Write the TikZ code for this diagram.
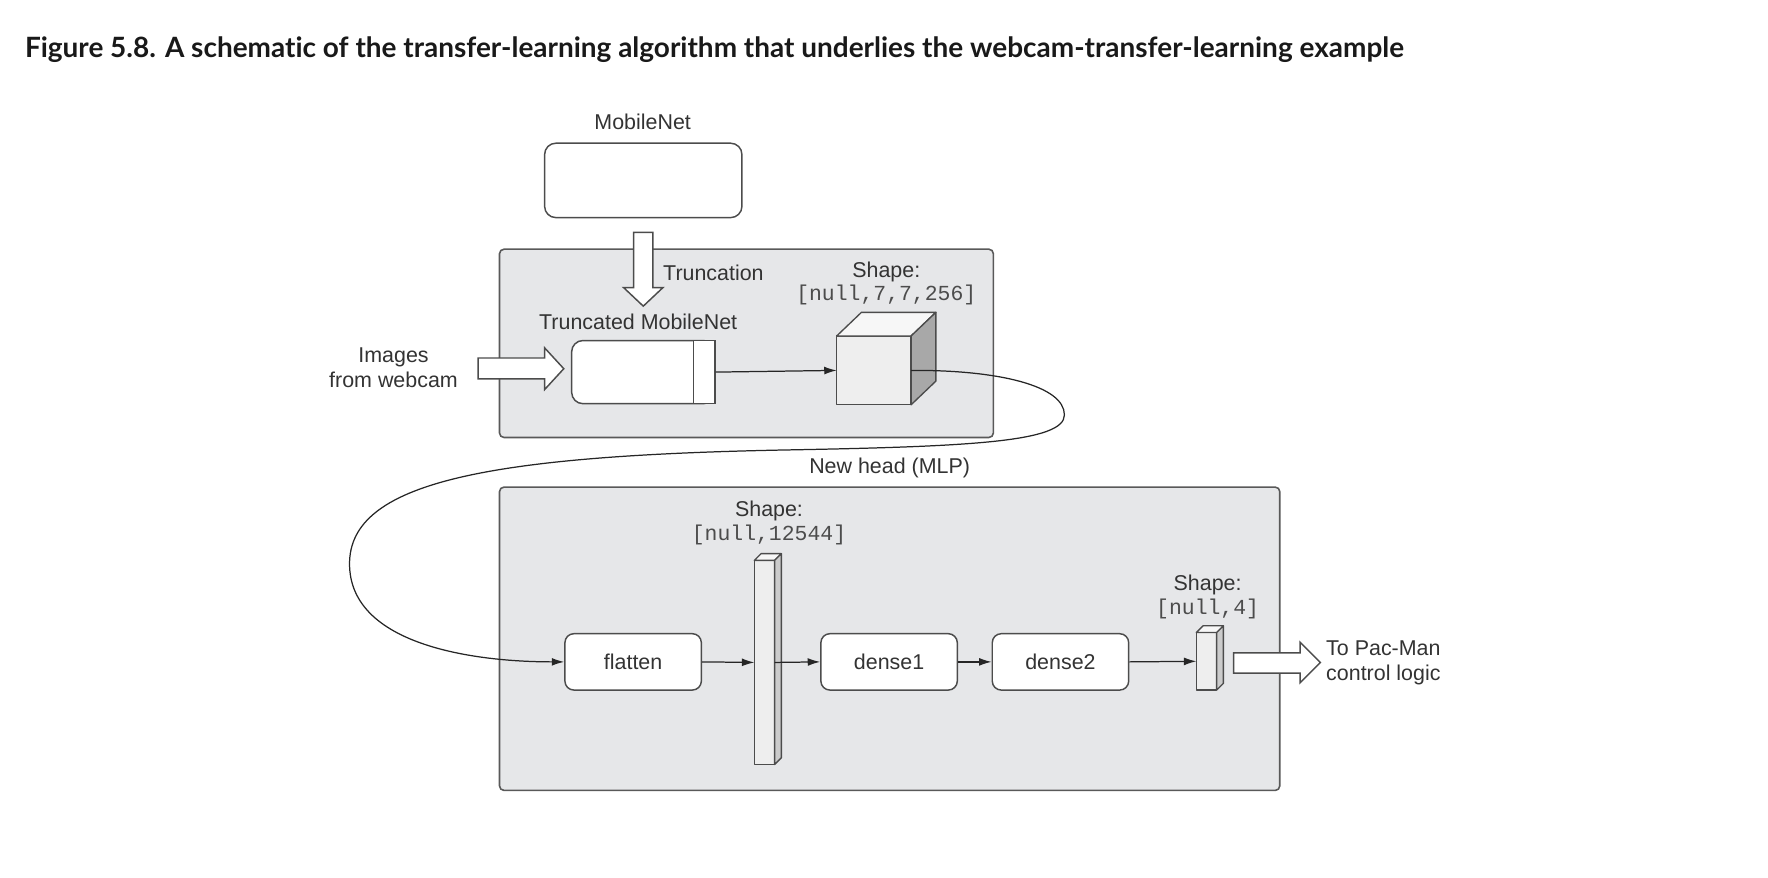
\documentclass[tikz,border=0pt]{standalone}
\usepackage{fontspec}
\setmainfont{Liberation Sans}
\newfontfamily\titlefont[Ligatures=NoCommon]{Lato}
\newfontfamily\codefont{Liberation Mono}
\usetikzlibrary{arrows.meta}
\definecolor{panelgray}{HTML}{E6E7E9}
\definecolor{cubefront}{HTML}{EEEEEE}
\definecolor{cubetop}{HTML}{F7F7F7}
\definecolor{cubeside}{HTML}{A8A8A8}
\definecolor{inkgray}{HTML}{333333}
\begin{document}
\begin{tikzpicture}[x=1pt,y=-1pt,
  panel/.style={draw=black!65,fill=panelgray,line width=1.4pt,rounded corners=4pt},
  layer/.style={draw=black!70,fill=white,line width=1.3pt,rounded corners=8pt,minimum width=121pt,minimum height=50pt,inner sep=0pt,font=\fontsize{19}{22}\selectfont,text=inkgray},
  lbl/.style={font=\fontsize{19}{22}\selectfont,text=inkgray,align=center,inner sep=0pt},
  code/.style={font=\codefont\fontsize{19}{22}\selectfont,text=black!70,inner sep=0pt},
  conn/.style={-{Latex[length=11pt,width=7pt]},line width=1.1pt,draw=black!85},
  hollow/.style={draw=black!70,fill=white,line width=1.3pt,line join=miter},
  face/.style={draw=black!70,line width=1.2pt,line join=round,inner sep=0pt,outer sep=0pt}]
\useasboundingbox (0,0) rectangle (1568,778.6);
% title
\node[anchor=base west,inner sep=0pt,text=black!90,font=\titlefont\bfseries\fontsize{24.8}{28}\selectfont] (title) at (22,51)
  {Figure 5.8. A schematic of the transfer-learning algorithm that underlies the webcam-transfer-learning example};
% panels
\draw[panel] (443,221) rectangle (881,388);
\draw[panel] (443,432) rectangle (1135,701);
% top part: MobileNet and truncation
\node[lbl] (mnlabel) at (570,108) {MobileNet};
\node[layer,minimum width=175pt,minimum height=66pt,rounded corners=10pt] (mobilenet) at (570.5,160) {};
\draw[hollow] (562,206) -- (579,206) -- (579,255) -- (588,255) -- (570.5,271.5) -- (553,255) -- (562,255) -- cycle;
\node[lbl,anchor=west] (trunclabel) at (588,242) {Truncation};
\node[lbl] (tmnlabel) at (566,285) {Truncated MobileNet};
\node[layer,minimum width=127pt,minimum height=56pt,rounded corners=10pt] (trunc) at (570.5,330) {};
\draw[draw=black!70,fill=white,line width=1.3pt] (615,302) rectangle (634,358);
% input
\node[lbl] (images) at (349,326) {Images\\from webcam};
\draw[hollow] (424,317.5) -- (483,317.5) -- (483,308.5) -- (500,327) -- (483,345.5) -- (483,336) -- (424,336) -- cycle;
% cube
\node[lbl] (shape1) at (786,241) {Shape:};
\node[code] (code1) at (786,262) {[null,7,7,256]};
\node[face,draw,fill=cubefront,minimum width=66pt,minimum height=61pt] (cube) at (775,328.5) {};
\draw[face,fill=cubetop] (cube.north west) -- ++(22,-21) -- ++(66,0) -- (cube.north east) -- cycle;
\draw[face,fill=cubeside] (cube.north east) -- ++(22,-21) -- ++(0,61) -- (cube.south east) -- cycle;
\draw[conn] (trunc.east) -- (cube.west);
% new head
\node[lbl] (headlabel) at (789,415) {New head (MLP)};
\node[layer] (flatten) at (561.5,587) {flatten};
\node[lbl] (shape2) at (682,453) {Shape:};
\node[code] (code2) at (682,474) {[null,12544]};
\node[face,draw,fill=cubefront,minimum width=18pt,minimum height=181pt] (bar) at (678,587.5) {};
\draw[face,fill=cubetop] (bar.north west) -- ++(6,-6) -- ++(18,0) -- (bar.north east) -- cycle;
\draw[face,fill=cubeside!60] (bar.north east) -- ++(6,-6) -- ++(0,181) -- (bar.south east) -- cycle;
\node[layer] (dense1) at (788.5,587) {dense1};
\node[layer] (dense2) at (940.5,587) {dense2};
\node[lbl] (shape3) at (1071,519) {Shape:};
\node[code] (code3) at (1071,540) {[null,4]};
\node[face,draw,fill=cubefront,minimum width=18pt,minimum height=51pt] (outbar) at (1070,586.5) {};
\draw[face,fill=cubetop] (outbar.north west) -- ++(6,-6) -- ++(18,0) -- (outbar.north east) -- cycle;
\draw[face,fill=cubeside!60] (outbar.north east) -- ++(6,-6) -- ++(0,51) -- (outbar.south east) -- cycle;
% connectors
\draw[conn] (cube.east) .. controls (885,328) and (944,342) .. (944,368)
  .. controls (944,392) and (860,396) .. (700,399)
  .. controls (430,404) and (310,428) .. (310,500)
  .. controls (310,572) and (420,587) .. (flatten.west);
\draw[conn] (flatten.east) -- (bar.west);
\draw[conn] (bar.east) -- (dense1.west);
\draw[conn] (dense1.east) -- (dense2.west);
\draw[conn] (dense2.east) -- (outbar.west);
% output
\draw[hollow] (1094,579) -- (1153,579) -- (1153,569.5) -- (1171,587.5) -- (1153,605.5) -- (1153,597) -- (1094,597) -- cycle;
\node[lbl,align=left,anchor=west] (pacman) at (1176,588) {To Pac-Man\\control logic};
\end{tikzpicture}
\end{document}
